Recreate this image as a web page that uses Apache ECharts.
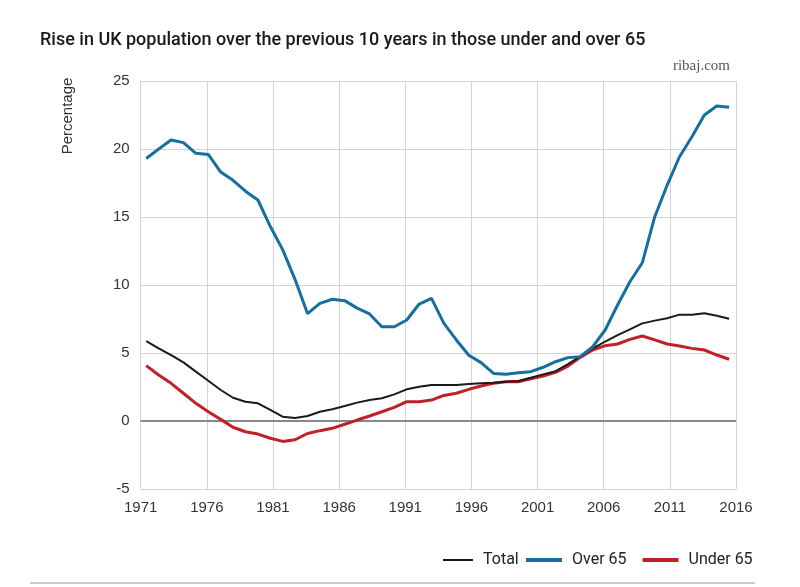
<!DOCTYPE html>
<html>
<head>
<meta charset="utf-8">
<script src="https://cdn.jsdelivr.net/npm/echarts@6/dist/echarts.min.js"></script>
<style>html,body{margin:0;padding:0;background:#fff}#c{width:800px;height:587px}</style>
</head>
<body>
<div id="c"></div>
<script>
// x positions of the points (decimal years)
var years = [1971.42,1972.36,1973.30,1974.23,1975.17,1976.11,1977.05,1977.98,1978.92,1979.86,
  1980.80,1981.73,1982.67,1983.61,1984.55,1985.48,1986.42,1987.36,1988.30,1989.23,
  1990.17,1991.11,1992.05,1992.98,1993.92,1994.86,1995.80,1996.73,1997.67,1998.61,
  1999.55,2000.48,2001.42,2002.36,2003.30,2004.23,2005.17,2006.11,2007.05,2007.98,
  2008.92,2009.86,2010.80,2011.73,2012.67,2013.61,2014.55,2015.48];
var total = [5.88,5.34,4.85,4.31,3.63,2.96,2.28,1.71,1.42,1.30,
  0.81,0.32,0.22,0.37,0.68,0.86,1.10,1.35,1.54,1.67,
  1.96,2.33,2.52,2.65,2.65,2.65,2.72,2.77,2.82,2.89,
  2.94,3.18,3.43,3.66,4.18,4.75,5.34,5.83,6.32,6.74,
  7.18,7.38,7.55,7.82,7.82,7.92,7.74,7.52];
var over65 = [19.3,20.0,20.66,20.47,19.68,19.6,18.3,17.7,16.9,16.25,
  14.3,12.6,10.4,7.9,8.65,8.95,8.85,8.3,7.87,6.93,
  6.93,7.43,8.6,9.02,7.18,5.96,4.83,4.29,3.5,3.43,
  3.55,3.63,3.95,4.36,4.66,4.73,5.46,6.69,8.53,10.24,
  11.64,15.02,17.35,19.43,20.9,22.5,23.16,23.07];
var under65 = [4.07,3.38,2.77,2.04,1.30,0.68,0.12,-0.46,-0.79,-0.96,
  -1.27,-1.5,-1.38,-0.92,-0.71,-0.54,-0.24,0.07,0.37,0.68,
  1.0,1.42,1.42,1.54,1.88,2.04,2.33,2.57,2.77,2.89,
  2.89,3.11,3.31,3.58,4.04,4.68,5.22,5.54,5.66,6.0,
  6.25,5.96,5.66,5.51,5.34,5.22,4.85,4.54];
var xTicks = [1971,1976,1981,1986,1991,1996,2001,2006,2011,2016];
var yTicks = [-5,0,5,10,15,20,25];

function pairs(v){ return years.map(function(y,i){ return [y, v[i]]; }); }

var chart = echarts.init(document.getElementById('c'), null, {renderer:'canvas'});
var labelFont = {color:'#333', fontSize:15, fontFamily:'Liberation Sans'};
var legendText = {fontFamily:'Roboto', fontSize:16, color:'#222', padding:[0,0,0,5]};
chart.setOption({
  animation:false,
  backgroundColor:'#fff',
  title:[
    {text:'Rise in UK population over the previous 10 years in those under and over 65',
     left:35, top:26, textStyle:{fontFamily:'Roboto', fontWeight:500, fontSize:18, color:'#1a1a1a'}},
    {text:'ribaj.com', right:65, top:54, textStyle:{fontFamily:'Liberation Serif', fontWeight:'normal', fontSize:15, color:'#555'}}
  ],
  grid:{left:140.7, right:64, top:81, bottom:98},
  xAxis:{type:'value', min:xTicks[0], max:xTicks[xTicks.length-1], interval:5,
    axisLine:{show:false}, axisTick:{show:false},
    axisLabel:Object.assign({margin:11, formatter:function(v){ return String(v); }}, labelFont),
    splitLine:{show:true, lineStyle:{color:'#d4d4d4', width:1}}},
  yAxis:{type:'value', min:yTicks[0], max:yTicks[yTicks.length-1], interval:5,
    axisLine:{show:false}, axisTick:{show:false},
    axisLabel:Object.assign({margin:11}, labelFont),
    splitLine:{show:true, lineStyle:{color:'#d4d4d4', width:1}}},
  legend:[
    {left:438, top:547, itemWidth:30, itemHeight:2, icon:'rect',
     textStyle:legendText, data:['Total']},
    {left:521, top:547, itemWidth:36, itemHeight:4, itemGap:16, icon:'rect',
     textStyle:legendText, data:['Over 65','Under 65']}
  ],
  series:[
    {name:'Total', type:'line', data:pairs(total), symbol:'none', z:3,
     lineStyle:{color:'#1a1a1a', width:2}, itemStyle:{color:'#1a1a1a'},
     markLine:{silent:true, symbol:'none', label:{show:false}, z:1,
       lineStyle:{color:'#888', width:2, type:'solid'}, data:[{yAxis:0}]}},
    {name:'Over 65', type:'line', data:pairs(over65), symbol:'none', z:4,
     lineStyle:{color:'#1570a0', width:3}, itemStyle:{color:'#1570a0'}},
    {name:'Under 65', type:'line', data:pairs(under65), symbol:'none', z:2,
     lineStyle:{color:'#c0202a', width:3}, itemStyle:{color:'#c0202a'}}
  ],
  graphic:[
    {type:'text', x:68, y:116, rotation:Math.PI/2,
     style:{text:'Percentage', fill:'#333', font:'15px "Liberation Sans"', align:'center', verticalAlign:'middle'}},
    {type:'line', shape:{x1:30, y1:583, x2:755, y2:583}, style:{stroke:'#999', lineWidth:1}}
  ]
});
</script>
</body>
</html>
